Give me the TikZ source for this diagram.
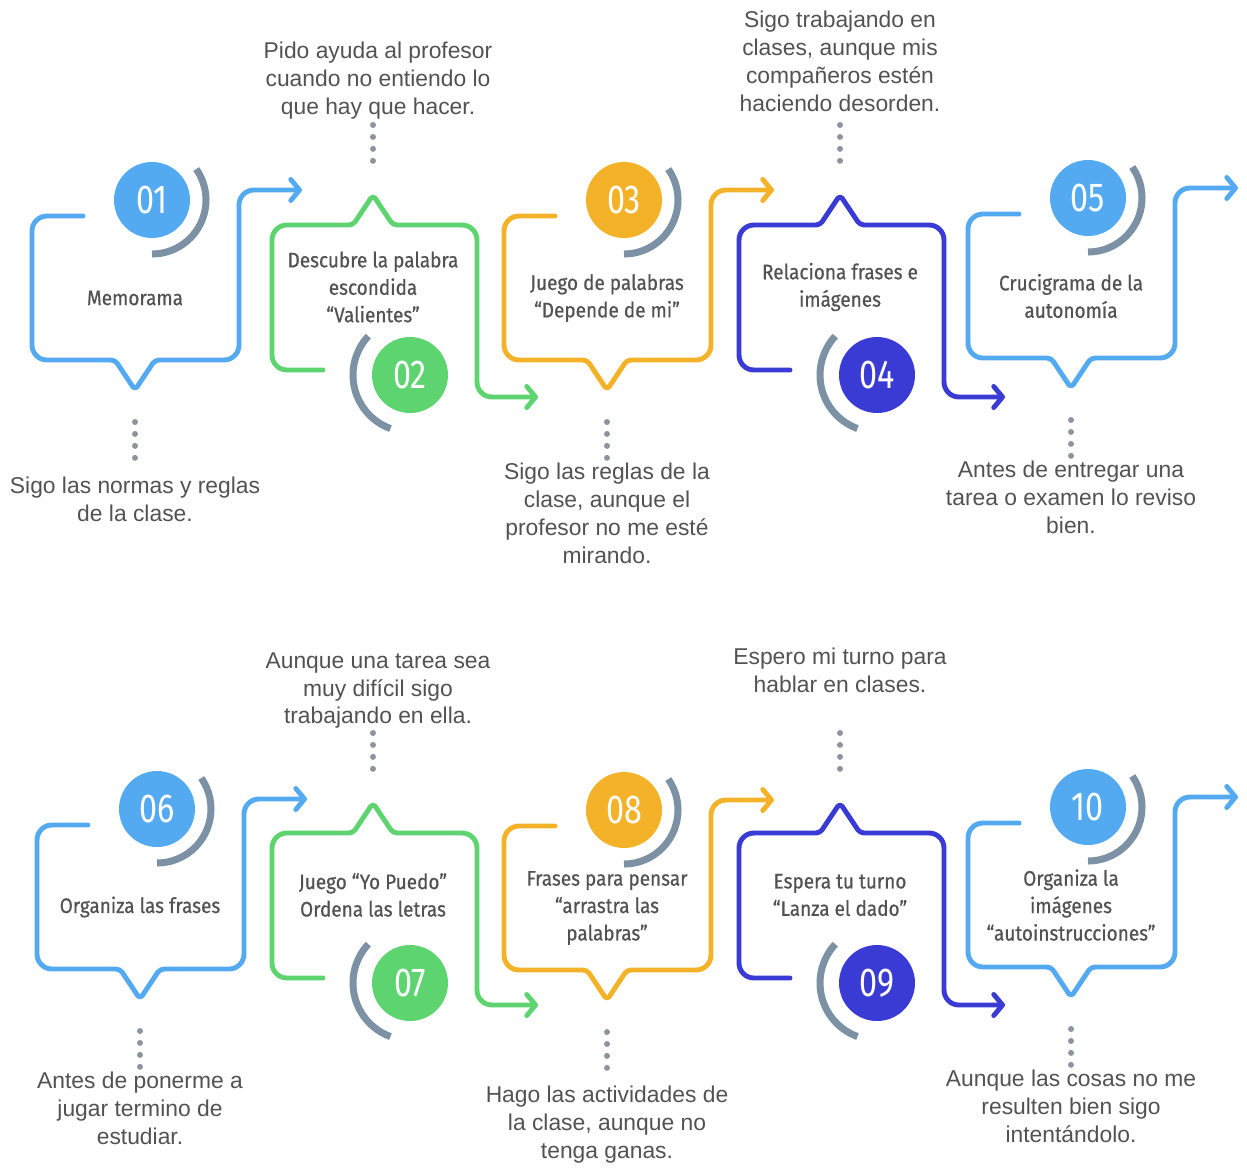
\documentclass[tikz,border=0pt]{standalone}
\usepackage{fontspec}
\usetikzlibrary{arrows.meta}
\newfontfamily\boxfont[FakeStretch=0.9,FakeBold=0.6]{Fira Sans}
\newfontfamily\numfont[FakeStretch=0.8]{Fira Sans}
\newfontfamily\capfont{Liberation Sans}
\definecolor{stepblue}{RGB}{84,170,240}
\definecolor{stepgreen}{RGB}{94,212,112}
\definecolor{stepyellow}{RGB}{244,178,40}
\definecolor{stepindigo}{RGB}{58,58,212}
\definecolor{ringgray}{RGB}{125,145,165}
\definecolor{textgray}{RGB}{82,82,82}
\definecolor{dotgray}{RGB}{140,148,158}

% bubble with pointer below, number on top: id, pointer x, top y, colour, text
\newcommand{\bubbledown}[5]{%
  \draw[bubble,#4] (#2-52,#3) -- (#2-103,#3) -- (#2-103,#3+144) -- (#2-60,#3+144)
    [rounded corners=2.3pt] -- (#2-20,#3+144) -- (#2,#3+174) -- (#2+20,#3+144) -- (#2+60,#3+144)
    [rounded corners=8.5pt] -- (#2+104,#3+144) -- (#2+104,#3-26) -- (#2+167,#3-26);
  \node[numdot,fill=#4] (n#1) at (#2+17,#3-16) {#1};
  \draw[ring] (n#1.center) ++(-35:54) arc[start angle=-35,end angle=90,radius=54];
  \node[boxtext] (t#1) at (#2,#3+82) {#5};
  \draw[leader] (#2,#3+206) -- (#2,#3+244);
}
% bubble with pointer on top, number below: id, pointer x, top y, colour, text
\newcommand{\bubbleup}[5]{%
  \draw[bubble,#4] (#2-50,#3+145) -- (#2-101,#3+145) -- (#2-101,#3) -- (#2-60,#3)
    [rounded corners=2.3pt] -- (#2-20,#3) -- (#2,#3-30) -- (#2+20,#3) -- (#2+60,#3)
    [rounded corners=8.5pt] -- (#2+104,#3) -- (#2+104,#3+172) -- (#2+165,#3+172);
  \node[numdot,fill=#4] (n#1) at (#2+37,#3+150) {#1};
  \draw[ring] (n#1.center) ++(-137:57) arc[start angle=-137,end angle=-250,radius=57];
  \node[boxtext] (t#1) at (#2,#3+62) {#5};
  \draw[leader] (#2,#3-100) -- (#2,#3-62);
}

\begin{document}
\begin{tikzpicture}[x=0.02cm, y=-0.02cm, line cap=round, line join=round,
  bubble/.style={line width=2.8pt, rounded corners=8.5pt, -{Straight Barb[round,length=5pt,width=12pt]}},
  numdot/.style={circle, minimum size=1.52cm, inner sep=0pt, text=white, font=\numfont\fontsize{23}{23}\selectfont},
  ring/.style={ringgray, line width=4pt, line cap=butt},
  boxtext/.style={align=center, text=textgray, inner sep=0pt, font=\boxfont\fontsize{12}{15.6}\selectfont},
  captext/.style={align=center, text=textgray, inner sep=0pt, anchor=north, font=\capfont\fontsize{13}{15.9}\selectfont},
  leader/.style={dotgray, line width=3.4pt, dash pattern=on 0pt off 6.8pt}]
  \useasboundingbox (0,0) rectangle (1247,1167);

  % first row
  \bubbledown{01}{135}{216}{stepblue}{Memorama}
  \bubbleup{02}{373}{225}{stepgreen}{Descubre la palabra\\escondida\\“Valientes”}
  \bubbledown{03}{607}{216}{stepyellow}{Juego de palabras\\“Depende de mi”}
  \bubbleup{04}{840}{225}{stepindigo}{Relaciona frases e\\imágenes}
  \bubbledown{05}{1071}{214}{stepblue}{Crucigrama de la\\autonomía}

  % second row
  \bubbledown{06}{140}{825}{stepblue}{Organiza las frases}
  \bubbleup{07}{373}{833}{stepgreen}{Juego “Yo Puedo”\\Ordena las letras}
  \bubbledown{08}{607}{826}{stepyellow}{Frases para pensar\\“arrastra las\\palabras”}
  \bubbleup{09}{840}{833}{stepindigo}{Espera tu turno\\“Lanza el dado”}
  \bubbledown{10}{1071}{823}{stepblue}{Organiza la\\imágenes\\“autoinstrucciones”}

  % captions
  \node[captext] (c01) at (135,477) {Sigo las normas y reglas\\de la clase.};
  \node[captext] (c02) at (378,42) {Pido ayuda al profesor\\cuando no entiendo lo\\que hay que hacer.};
  \node[captext] (c03) at (607,463) {Sigo las reglas de la\\clase, aunque el\\profesor no me esté\\mirando.};
  \node[captext] (c04) at (840,11) {Sigo trabajando en\\clases, aunque mis\\compañeros estén\\haciendo desorden.};
  \node[captext] (c05) at (1071,461) {Antes de entregar una\\tarea o examen lo reviso\\bien.};
  \node[captext] (c06) at (140,1072) {Antes de ponerme a\\jugar termino de\\estudiar.};
  \node[captext] (c07) at (378,652) {Aunque una tarea sea\\muy difícil sigo\\trabajando en ella.};
  \node[captext] (c08) at (607,1086) {Hago las actividades de\\la clase, aunque no\\tenga ganas.};
  \node[captext] (c09) at (840,648) {Espero mi turno para\\hablar en clases.};
  \node[captext] (c10) at (1071,1070) {Aunque las cosas no me\\resulten bien sigo\\intentándolo.};
\end{tikzpicture}
\end{document}
